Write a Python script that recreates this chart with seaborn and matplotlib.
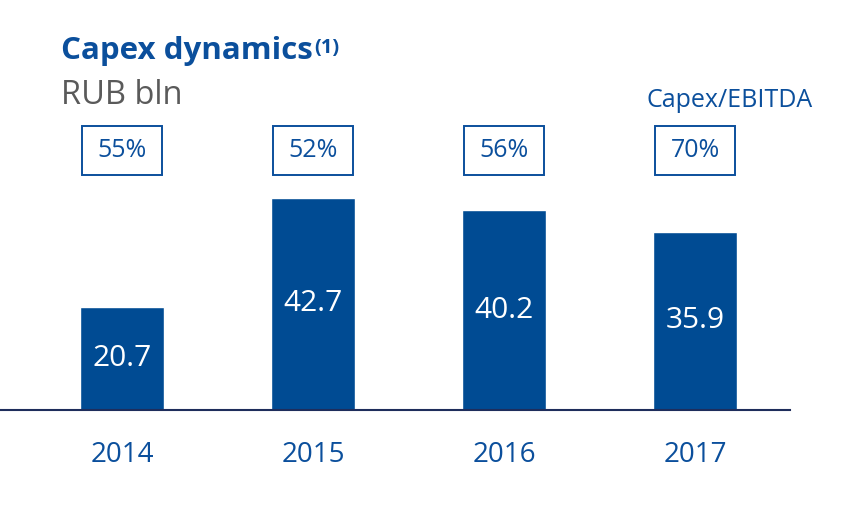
import matplotlib
matplotlib.use("Agg")
import matplotlib.pyplot as plt
import seaborn as sns
import pandas as pd
from matplotlib.patches import Rectangle

years = ["2014", "2015", "2016", "2017"]
capex = [20.7, 42.7, 40.2, 35.9]
capex_ebitda = ["55%", "52%", "56%", "70%"]

BLUE = "#004b93"
TEXT_BLUE = "#0b4f9c"
GREY = "#5a5a5a"
NAVY = "#1e2d5c"

sns.set_style("white")
plt.rcParams["font.family"] = ["Open Sans", "DejaVu Sans"]

df = pd.DataFrame({"year": years, "capex": capex})

fig = plt.figure(figsize=(8.51, 5.11), dpi=100)
W, H = 851, 511
# axes: x from 0 to 790 px, baseline at 410 px, top at 60 px
ax = fig.add_axes([0, (H - 410) / H, 790 / W, 350 / H])

sns.barplot(data=df, x="year", y="capex", color=BLUE, saturation=1,
            width=0.445, ax=ax)

ax.set_xlim(-122 / 191, (790 - 122) / 191)
ax.set_ylim(0, 350 / 4.97)

for i, v in enumerate(capex):
    ax.text(i, v / 2, f"{v:.1f}", ha="center", va="center",
            color="white", fontsize=21.5)

# Capex/EBITDA boxes
for i, p in enumerate(capex_ebitda):
    y0, y1 = (410 - 175) / 4.97, (410 - 126) / 4.97
    ax.add_patch(Rectangle((i - 0.21, y0), 0.42, y1 - y0, fill=False,
                           edgecolor=TEXT_BLUE, linewidth=1.4, clip_on=False))
    ax.text(i, (y0 + y1) / 2, p, ha="center", va="center",
            color=TEXT_BLUE, fontsize=18)

for s in ["top", "left", "right"]:
    ax.spines[s].set_visible(False)
ax.spines["bottom"].set_color(NAVY)
ax.spines["bottom"].set_linewidth(1.5)
ax.set_xlabel("")
ax.set_ylabel("")
ax.set_yticks([])
ax.tick_params(axis="x", length=0, pad=22, labelsize=20, labelcolor=TEXT_BLUE)

title = fig.text(61 / W, 1 - 59 / H, "Capex dynamics", color=TEXT_BLUE,
                 fontsize=22.5, fontweight="bold", va="baseline", ha="left")
fig.canvas.draw()
bb = title.get_window_extent()
fig.text(bb.x1 / W + 1 / W, 1 - 53 / H, "(1)", color=TEXT_BLUE,
         fontsize=14.5, fontweight="bold", va="baseline", ha="left")
fig.text(61 / W, 1 - 104 / H, "RUB bln", color=GREY,
         fontsize=23.5, va="baseline", ha="left")
fig.text(730 / W, 1 - 107 / H, "Capex/EBITDA", color=TEXT_BLUE,
         fontsize=18, va="baseline", ha="center")

fig.savefig("out.png", dpi=100)
